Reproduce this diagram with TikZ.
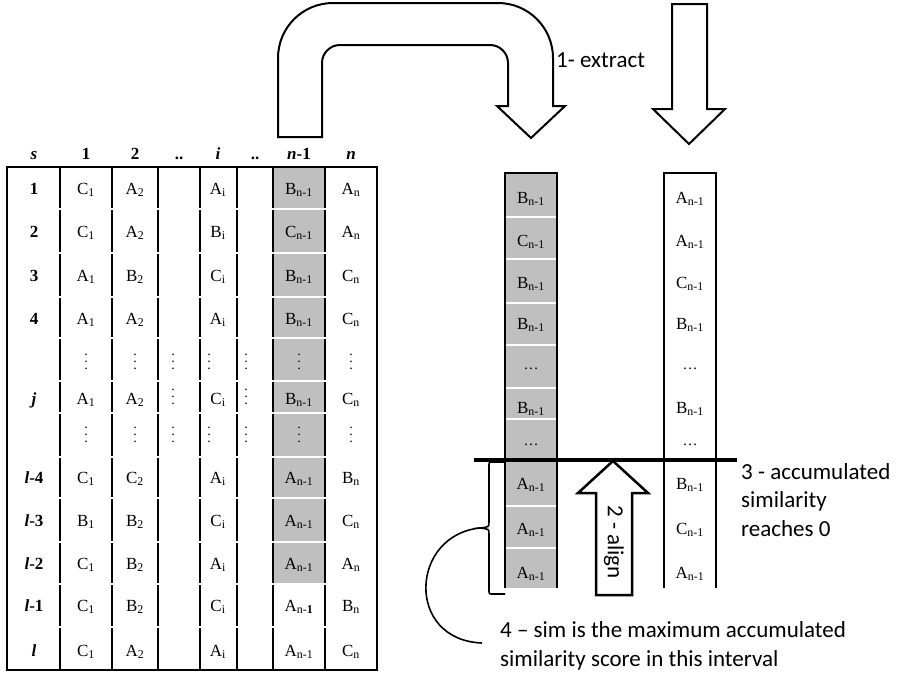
\documentclass[tikz,border=0pt]{standalone}
\usepackage{fontspec}
\setmainfont{Liberation Serif}
\newfontfamily\notefont{Carlito}

\definecolor{colgray}{RGB}{191,191,191}
\newcommand{\cellval}[2]{#1\textsubscript{#2}}
\newcommand{\vdotsmark}{\vbox{\fontsize{14}{7}\selectfont\hbox{.}\hbox{.}\hbox{.}}}

\begin{document}
\begin{tikzpicture}[x=1pt,y=-1pt,
    cell/.style={font=\fontsize{17}{17}\selectfont,inner sep=0pt,anchor=base},
    head/.style={font=\fontsize{17}{17}\selectfont\bfseries,inner sep=0pt,anchor=base},
    dotcell/.style={inner sep=0pt},
    note/.style={font=\notefont\fontsize{23}{28.5}\selectfont,align=left,inner sep=0pt},
    block arrow/.style={draw,line width=2pt,fill=white,line join=miter}]
\useasboundingbox (0,0) rectangle (897,678);

% sequence table
\fill[colgray] (273,167) rectangle (325,584);
\foreach \x in {60,112,158,200,237,273,325}
    \draw[line width=1.4pt] (\x,167) -- (\x,670);
\foreach \y in {209,253,297,338,381,413,457,498,542,584,627}
    \draw[white,line width=1.8pt] (8.5,\y) -- (375.5,\y);
\draw[line width=2pt] (7,167) rectangle (377,670);

\foreach \x/\txt [count=\k] in {34/\textit{s},86/1,135/2,179/{..},218/\textit{i},255/{..},299/\textit{n}-1,351/\textit{n}}
    \node[head] (h\k) at (\x,159) {\txt};

\foreach \y/\lab/\ca/\cb/\ci/\cm/\cn/\nsub [count=\r] in {
        188/1/C/A/A/B/A/n-1,
        231/2/C/A/B/C/A/n-1,
        275/3/A/B/C/B/C/n-1,
        318/4/A/A/A/B/C/n-1,
        398/\textit{j}/A/A/C/B/C/n-1,
        477/\textit{l}-4/C/C/A/A/B/n-1,
        520/\textit{l}-3/B/B/C/A/C/n-1,
        563/\textit{l}-2/C/B/A/A/A/n-1,
        605/\textit{l}-1/C/B/C/A/B/n-\textbf{1},
        650/\textit{l}/C/A/A/A/C/n-1}
{
    \node[head] (s\r) at (34,\y+6) {\lab};
    \node[cell] (a\r) at (86,\y+6) {\cellval{\ca}{1}};
    \node[cell] (b\r) at (135,\y+6) {\cellval{\cb}{2}};
    \node[cell] (i\r) at (218,\y+6) {\cellval{\ci}{i}};
    \node[cell] (m\r) at (299,\y+6) {\cellval{\cm}{\nsub}};
    \node[cell] (n\r) at (351,\y+6) {\cellval{\cn}{n}};
}
\foreach \y [count=\r] in {362,435}
    \foreach \x [count=\k] in {86,135,173,209,246,299,351}
        \node[dotcell] (d\r-\k) at (\x,\y) {\vdotsmark};
\node[dotcell] (dj-1) at (173,397) {\vdotsmark};
\node[dotcell] (dj-2) at (246,397) {\vdotsmark};

% extracted columns
\fill[colgray] (505,173) rectangle (557,588);
\foreach \y in {259,303,345,388,419,506,548}
    \draw[white,line width=1.3pt] (505.7,\y) -- (556.3,\y);
\draw[white,line width=2.5pt] (505.7,217) -- (556.3,217);
\draw[line width=1.4pt] (505,588) -- (505,173) -- (557,173) -- (557,588);
\draw[line width=1.4pt] (664,588) -- (664,173) -- (716,173) -- (716,588);

\foreach \y/\g/\w [count=\k] in {197/B/A,240/C/A,282/B/C,323/B/B,407/B/B,483/A/B,528/A/C,572/A/A}
{
    \node[cell] (g\k) at (531,\y+6) {\cellval{\g}{n-1}};
    \node[cell] (w\k) at (690,\y+6) {\cellval{\w}{n-1}};
}
\foreach \y [count=\k] in {367,443}
{
    \node[cell,font=\fontsize{15}{15}\selectfont] (ge\k) at (531,\y+2) {\dots};
    \node[cell,font=\fontsize{15}{15}\selectfont] (we\k) at (690,\y+2) {\dots};
}

% block arrows
\draw[block arrow] (278,137) -- (278,58) arc[start angle=180,end angle=270,radius=55]
    -- (498,3) arc[start angle=270,end angle=360,radius=55]
    -- (553,106) -- (565,106) -- (531,138) -- (497,106) -- (508,106)
    -- (508,63) arc[start angle=0,end angle=-90,radius=18]
    -- (340,45) arc[start angle=270,end angle=180,radius=18]
    -- (322,137) -- cycle;
\draw[block arrow] (672,4) -- (707,4) -- (707,109) -- (725,109) -- (689,144)
    -- (653,109) -- (672,109) -- cycle;
\draw[block arrow,line width=2.5pt] (596,595) -- (596,493) -- (578,493) -- (613,461)
    -- (648,493) -- (632,493) -- (632,595) -- cycle;
\node[note,rotate=-90] (align) at (614,542) {2 - align};

\draw[line width=4pt] (474,460) -- (737,460);

% notes
\node[note,anchor=west] (extract) at (556,60) {1- extract};
\node[note,anchor=west] (zero) at (741,500) {3 - accumulated\\similarity\\reaches 0};
\node[note,anchor=west] (sim) at (500,646) {4 – sim is the maximum accumulated\\similarity score in this interval};

% interval brace
\draw[line width=1.6pt] (505,462) -- (493,462) .. controls (489,462) .. (489,466)
    -- (489,522) .. controls (489,527) .. (480,528) coordinate (tip)
    .. controls (489,529) .. (489,534) -- (489,590)
    .. controls (489,594) .. (493,594) -- (505,594);
\draw[line width=1.6pt] (tip) .. controls (410,535) and (405,640) .. ([xshift=-18pt,yshift=3pt]sim.west);
\end{tikzpicture}
\end{document}
